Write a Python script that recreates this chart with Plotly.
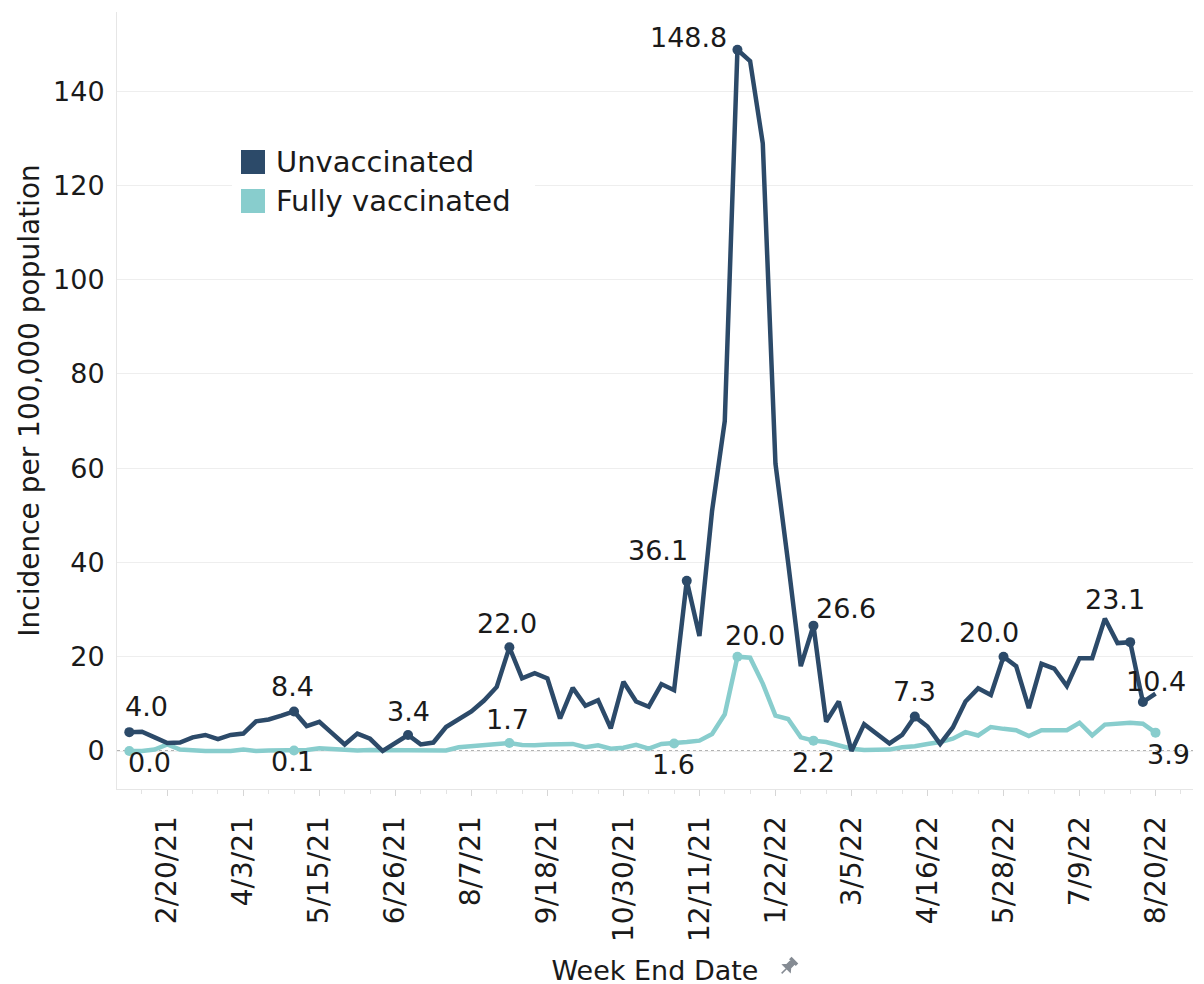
"""Weekly incidence by vaccination status."""

import numpy as np
import pandas as pd
import plotly.graph_objects as go

week_end = pd.date_range("2021-01-30", periods=82, freq="7D")

unvaccinated = [
    4.0, 4.1, 2.9, 1.7, 1.8, 2.9, 3.4, 2.5, 3.4, 3.7,
    6.3, 6.7, 7.5, 8.4, 5.3, 6.2, 3.8, 1.4, 3.7, 2.6,
    0.0, 1.7, 3.4, 1.4, 1.8, 5.1, 6.7, 8.4, 10.7, 13.6,
    22.0, 15.4, 16.5, 15.4, 6.9, 13.4, 9.6, 10.8, 4.8, 14.7,
    10.5, 9.4, 14.2, 12.9, 36.1, 24.4, 51.0, 70.0, 148.8, 146.4,
    128.9, 61.0, 40.0, 18.0, 26.6, 6.2, 10.5, 0.0, 5.7, 3.7,
    1.6, 3.4, 7.3, 5.2, 1.5, 5.0, 10.5, 13.3, 11.9, 20.0,
    18.0, 9.1, 18.5, 17.5, 13.8, 19.7, 19.7, 28.1, 22.9, 23.1,
    10.4, 12.2,
]

fully_vaccinated = [
    0.0, 0.0, 0.3, 1.4, 0.3, 0.1, 0.0, 0.0, 0.0, 0.3,
    0.0, 0.1, 0.1, 0.1, 0.2, 0.6, 0.4, 0.3, 0.1, 0.2,
    0.2, 0.2, 0.3, 0.3, 0.2, 0.1, 0.8, 1.0, 1.2, 1.3,
    1.7, 1.3, 1.2, 1.4, 1.5, 1.5, 0.8, 1.2, 0.5, 0.7,
    1.3, 0.5, 1.5, 1.6, 1.9, 2.2, 3.6, 7.8, 20.0, 19.8,
    14.3, 7.5, 6.8, 2.9, 2.2, 1.9, 1.2, 0.5, 0.2, 0.2,
    0.3, 0.8, 1.0, 1.5, 1.9, 2.6, 4.0, 3.3, 5.1, 4.7,
    4.4, 3.2, 4.4, 4.4, 4.4, 6.0, 3.3, 5.6, 5.8, 6.0,
    5.8, 3.9,
]

# weeks (index into week_end) that carry a value label
unvax_labelled = [0, 13, 22, 30, 44, 48, 54, 62, 69, 79, 80]
vax_labelled = [0, 13, 30, 43, 48, 54, 81]

tick_weeks = [3, 9, 15, 21, 27, 33, 39, 45, 51, 57, 63, 69, 75, 81]
tick_labels = [
    "2/20/21", "4/3/21", "5/15/21", "6/26/21", "8/7/21", "9/18/21", "10/30/21",
    "12/11/21", "1/22/22", "3/5/22", "4/16/22", "5/28/22", "7/9/22", "8/20/22",
]

DARK = "#2c4a69"
TEAL = "#88cdcd"
FONT = "DejaVu Sans"
TXT = "#1a1a1a"

# label nudges in px (xshift, yshift), Tableau-like placement
unvax_shift = {0: (17, 26), 13: (-2, 25), 22: (0, 23), 30: (-2, 24), 44: (-29, 30),
               48: (-49, 12), 54: (33, 17), 62: (0, 25), 69: (-15, 24),
               79: (-15, 43), 80: (13, 21)}
vax_shift = {0: (20, -11), 13: (-2, -11), 30: (-2, 24), 43: (-1, -21),
             48: (18, 21), 54: (0, -22), 81: (13, -22)}

# plot area in page pixels; the page body adds an 8px offset
OFF = 8
L, R, T, B = 117, 1193, 12, 789
W, H = 1204, 984


def px(x):
    return (x - L) / (R - L)


def py(y):
    return (B - y) / (B - T)


fig = go.Figure()

for vals, color, marked in [
    (fully_vaccinated, TEAL, vax_labelled),
    (unvaccinated, DARK, unvax_labelled),
]:
    fig.add_trace(go.Scatter(
        x=week_end,
        y=vals,
        mode="lines+markers",
        line=dict(color=color, width=4.5),
        marker=dict(color=color, opacity=1, line=dict(width=0),
                    size=[10 if i in marked else 0 for i in range(len(vals))]),
        showlegend=False,
    ))

for vals, shifts in [(unvaccinated, unvax_shift), (fully_vaccinated, vax_shift)]:
    for i, (dx, dy) in shifts.items():
        fig.add_annotation(
            x=week_end[i], y=vals[i], text=f"{vals[i]:.1f}", showarrow=False,
            xshift=dx, yshift=dy, font=dict(family=FONT, size=27, color=TXT),
        )

# dotted zero reference
fig.add_shape(type="line", xref="paper", yref="y", x0=0, x1=1, y0=0, y1=0,
              line=dict(color="#9a9a9a", width=1.5, dash="dot"), layer="between")

# legend drawn by hand (square swatches)
fig.add_shape(type="rect", xref="paper", yref="paper", x0=px(232), x1=px(535),
              y0=py(226), y1=py(138), fillcolor="white", line=dict(width=0), layer="above")
for (name, color), yc in zip([("Unvaccinated", DARK), ("Fully vaccinated", TEAL)], [162, 201]):
    fig.add_shape(type="rect", xref="paper", yref="paper", x0=px(241), x1=px(265),
                  y0=py(yc + 12), y1=py(yc - 12), fillcolor=color, line=dict(width=0),
                  layer="above")
    fig.add_annotation(xref="paper", yref="paper", x=px(274), y=py(yc), text=name,
                       xanchor="left", yanchor="middle", showarrow=False,
                       font=dict(family=FONT, size=29, color=TXT))

# small pin glyph next to the axis title
pin = np.array([(-4, -9), (4, -9), (4, -7), (2.5, -7), (2.5, -1), (5, 2), (-5, 2),
                (-2.5, -1), (-2.5, -7), (-4, -7)], dtype=float)
needle = np.array([(0, 2), (0, 9)], dtype=float)
rot = np.array([[np.cos(np.pi / 4), -np.sin(np.pi / 4)], [np.sin(np.pi / 4), np.cos(np.pi / 4)]])
cx, cy = 788, 967
pts = pin @ rot.T + (cx, cy)
nd = needle @ rot.T + (cx, cy)
path = "M " + " L ".join(f"{px(a):.5f},{py(b):.5f}" for a, b in pts) + " Z"
path += f" M {px(nd[0][0]):.5f},{py(nd[0][1]):.5f} L {px(nd[1][0]):.5f},{py(nd[1][1]):.5f}"
fig.add_shape(type="path", xref="paper", yref="paper", path=path, fillcolor="#858b93",
              line=dict(color="#858b93", width=1.5))

x0 = week_end[0] - pd.Timedelta(days=6.8)
x1 = week_end[0] + pd.Timedelta(days=587.7)

fig.update_xaxes(
    type="date",
    range=[x0, x1],
    tickvals=[week_end[i] for i in tick_weeks],
    ticktext=tick_labels,
    tickangle=-90,
    tickfont=dict(family=FONT, size=28, color=TXT),
    ticks="outside", ticklen=6, tickcolor="#d6d6d6",
    minor=dict(ticks="outside", ticklen=4, tickcolor="#e3e3e3",
               tick0=week_end[1], dtick=14 * 86400000),
    ticklabelstandoff=9,
    showgrid=False, zeroline=False,
    showline=True, linecolor="#e6e6e6", linewidth=1,
    title=dict(text="Week End Date", font=dict(family=FONT, size=27, color=TXT), standoff=20),
    automargin=False,
)
fig.update_yaxes(
    range=[-8.06, 156.8],
    tick0=0, dtick=20,
    tickfont=dict(family=FONT, size=27, color=TXT),
    ticklabelstandoff=6,
    showgrid=True, gridcolor="#eeeeee", gridwidth=1,
    zeroline=False,
    showline=True, linecolor="#e6e6e6", linewidth=1,
    title=dict(text="Incidence per 100,000 population",
               font=dict(family=FONT, size=28, color=TXT), standoff=5),
    automargin=False,
)
fig.update_layout(
    width=W, height=H, autosize=False,
    margin=dict(l=L - OFF, r=W + OFF - R, t=T - OFF, b=H + OFF - B),
    plot_bgcolor="white", paper_bgcolor="white",
    font=dict(family=FONT, color=TXT),
    showlegend=False,
)

fig.write_html("out.html")
